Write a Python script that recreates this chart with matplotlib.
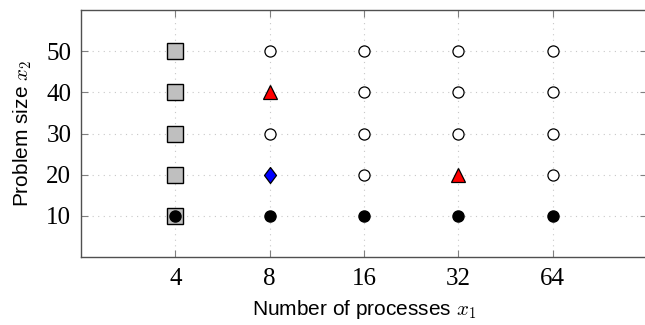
import matplotlib
matplotlib.use("Agg")
import matplotlib.pyplot as plt

plt.rcParams.update({"mathtext.fontset": "cm"})

# data: marker groups (x = number of processes, y = problem size)
sq_x = [4, 4, 4, 4, 4]
sq_y = [10, 20, 30, 40, 50]
open_x = [8, 8, 16, 16, 16, 16, 32, 32, 32, 64, 64, 64, 64]
open_y = [50, 30, 50, 40, 30, 20, 50, 40, 30, 50, 40, 30, 20]
dot_x = [4, 8, 16, 32, 64]
dot_y = [10, 10, 10, 10, 10]
tri_x = [8, 32]
tri_y = [40, 20]
dia_x = [8]
dia_y = [20]

XTICKS = [4, 8, 16, 32, 64]
YTICKS = [10, 20, 30, 40, 50]

fig = plt.figure(figsize=(6.45, 3.25), dpi=100)
ax = fig.add_axes([81 / 645, 68 / 325, 566 / 645, 247 / 325])

diamond = [(0, 1), (0.75, 0), (0, -1), (-0.75, 0), (0, 1)]

ax.plot(sq_x, sq_y, "s", ms=11.5, mfc="#bfbfbf", mec="black", mew=1.0, ls="none", zorder=3)
ax.plot(open_x, open_y, "o", ms=8, mfc="white", mec="black", mew=0.9, ls="none", zorder=3)
ax.plot(dot_x, dot_y, "o", ms=8, mfc="black", mec="black", ls="none", zorder=4)
ax.plot(tri_x, tri_y, "^", ms=10, mfc="red", mec="black", mew=0.9, ls="none", zorder=3)
ax.plot(dia_x, dia_y, marker=diamond, ms=11.5, mfc="blue", mec="black", mew=0.9, ls="none", zorder=3)

ax.set_xscale("log", base=2)
ax.set_xlim(2, 128)
ax.set_ylim(0, 60)
ax.set_xticks(XTICKS)
ax.set_xticklabels([str(v) for v in XTICKS])
ax.set_yticks(YTICKS)
ax.set_yticklabels([str(v) for v in YTICKS])
ax.minorticks_off()

for lab in ax.get_xticklabels() + ax.get_yticklabels():
    lab.set_family("Liberation Serif")
    lab.set_fontsize(18)

ax.tick_params(direction="in", length=5, width=0.8, color="#808080",
               top=True, right=True)
ax.tick_params(axis="x", pad=8)
ax.tick_params(axis="y", pad=7)
ax.grid(True, ls=(0, (1, 4)), color="#c8c8c8", lw=0.8)
ax.set_axisbelow(True)
for s in ax.spines.values():
    s.set_color("#505050")
    s.set_linewidth(1.0)

ax.set_xlabel("Number of processes $x_1$", family="Liberation Sans", fontsize=15, labelpad=5.5)
ax.set_ylabel("Problem size $x_2$", family="Liberation Sans", fontsize=15, labelpad=9)

fig.savefig("out.png", dpi=100)
